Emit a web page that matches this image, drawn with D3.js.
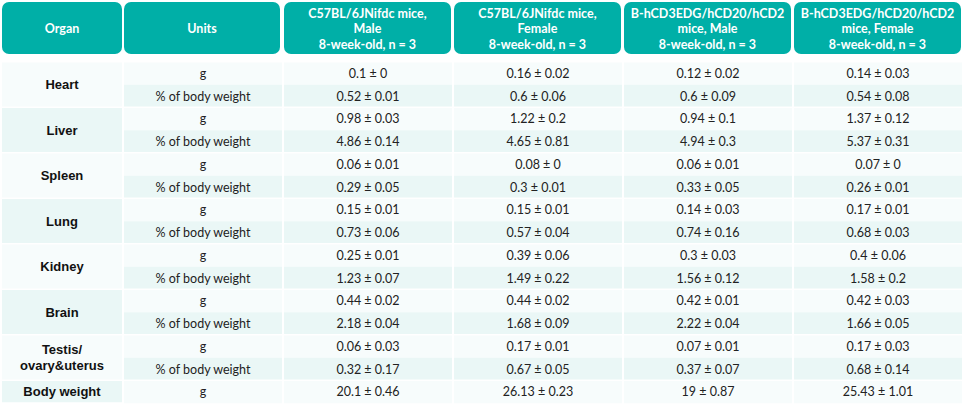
<!DOCTYPE html>
<html>
<head>
<meta charset="utf-8">
<script src="https://cdn.jsdelivr.net/npm/d3@7"></script>
<style>
  body { margin: 0; background: #fff; }
  svg { display: block; }
</style>
</head>
<body>
<svg id="chart"></svg>
<script>
// table content
var headers = [
  ["Organ"],
  ["Units"],
  ["C57BL/6JNifdc mice,", "Male", "8-week-old, n = 3"],
  ["C57BL/6JNifdc mice,", "Female", "8-week-old, n = 3"],
  ["B-hCD3EDG/hCD20/hCD2", "mice, Male", "8-week-old, n = 3"],
  ["B-hCD3EDG/hCD20/hCD2", "mice, Female", "8-week-old, n = 3"]
];
var organs = [["Heart"], ["Liver"], ["Spleen"], ["Lung"], ["Kidney"], ["Brain"], ["Testis/", "ovary&uterus"], ["Body weight"]];
var units = ["g", "% of body weight"];
var c57Male = ["0.1 ± 0", "0.52 ± 0.01", "0.98 ± 0.03", "4.86 ± 0.14", "0.06 ± 0.01", "0.29 ± 0.05", "0.15 ± 0.01", "0.73 ± 0.06",
  "0.25 ± 0.01", "1.23 ± 0.07", "0.44 ± 0.02", "2.18 ± 0.04", "0.06 ± 0.03", "0.32 ± 0.17", "20.1 ± 0.46"];
var c57Female = ["0.16 ± 0.02", "0.6 ± 0.06", "1.22 ± 0.2", "4.65 ± 0.81", "0.08 ± 0", "0.3 ± 0.01", "0.15 ± 0.01", "0.57 ± 0.04",
  "0.39 ± 0.06", "1.49 ± 0.22", "0.44 ± 0.02", "1.68 ± 0.09", "0.17 ± 0.01", "0.67 ± 0.05", "26.13 ± 0.23"];
var hcdMale = ["0.12 ± 0.02", "0.6 ± 0.09", "0.94 ± 0.1", "4.94 ± 0.3", "0.06 ± 0.01", "0.33 ± 0.05", "0.14 ± 0.03", "0.74 ± 0.16",
  "0.3 ± 0.03", "1.56 ± 0.12", "0.42 ± 0.01", "2.22 ± 0.04", "0.07 ± 0.01", "0.37 ± 0.07", "19 ± 0.87"];
var hcdFemale = ["0.14 ± 0.03", "0.54 ± 0.08", "1.37 ± 0.12", "5.37 ± 0.31", "0.07 ± 0", "0.26 ± 0.01", "0.17 ± 0.01", "0.68 ± 0.03",
  "0.4 ± 0.06", "1.58 ± 0.2", "0.42 ± 0.03", "1.66 ± 0.05", "0.17 ± 0.03", "0.68 ± 0.14", "25.43 ± 1.01"];
var series = [c57Male, c57Female, hcdMale, hcdFemale];

var width = 965, height = 404;
var teal = "#00afa7", light = "#f7fcfc", tint = "#eaf7f6";
var bodyFont = "Lato, 'Noto Sans', sans-serif";

// column edges
var edges = [2, 124, 284, 454, 624, 794, 964];
var colX = function(i) { return edges[i]; };
var colW = function(i) { return edges[i + 1] - edges[i] - 2; };

// rows: each organ is a group of up to two unit rows
var rowH = 22.75, tableTop = 62;
var groupY = d3.scaleLinear().domain([0, 1]).range([tableTop, tableTop + 2 * rowH]);
var rowY = function(r) { return groupY(Math.floor(r / 2)) + (r % 2) * rowH; };

var svg = d3.select("#chart").attr("width", width).attr("height", height);

// header boxes
var head = svg.append("g").selectAll("g").data(headers).enter().append("g");
head.append("rect")
  .attr("x", (d, i) => colX(i))
  .attr("y", 2)
  .attr("width", (d, i) => i == 0 ? 120 : (i == 1 ? 156 : colW(i) - 1))
  .attr("height", 52)
  .attr("rx", 7)
  .attr("fill", teal);
head.each(function(d, i) {
  var cx = colX(i) + (i == 0 ? 60 : (i == 1 ? 78 : (colW(i) - 1) / 2));
  var t = d3.select(this).append("text")
    .attr("text-anchor", "middle")
    .attr("fill", "#fff")
    .attr("font-family", "Lato, 'Open Sans', sans-serif")
    .attr("font-weight", "bold")
    .attr("font-size", 12.5);
  var y0 = 33 - (d.length - 1) * 15.5 / 2;
  d.forEach(function(line, k) {
    t.append("tspan").attr("x", cx).attr("y", y0 + k * 15.5).text(line);
  });
});

// organ cells
var org = svg.append("g").selectAll("g").data(organs).enter().append("g");
org.append("rect")
  .attr("x", colX(0))
  .attr("y", (d, i) => groupY(i) + 0.5)
  .attr("width", colW(0))
  .attr("height", (d, i) => (i == organs.length - 1 ? rowH : 2 * rowH) - 1.5)
  .attr("fill", (d, i) => i % 2 ? tint : light);
org.each(function(d, i) {
  var n = i == organs.length - 1 ? 1 : 2;
  var cy = groupY(i) + n * rowH / 2;
  var t = d3.select(this).append("text")
    .attr("text-anchor", "middle")
    .attr("fill", "#111")
    .attr("font-family", "'Liberation Sans', Arial, sans-serif")
    .attr("font-weight", "bold")
    .attr("font-size", 13);
  d.forEach(function(line, k) {
    t.append("tspan").attr("x", colX(0) + colW(0) / 2)
      .attr("y", cy + 4.5 + (k - (d.length - 1) / 2) * 16).text(line);
  });
});

// units + values rows
var rows = d3.range(c57Male.length);
var cells = [];
rows.forEach(function(r) {
  cells.push({ r: r, c: 1, text: units[r % 2] });
  series.forEach(function(s, k) { cells.push({ r: r, c: k + 2, text: s[r] }); });
});

var cell = svg.append("g").selectAll("g").data(cells).enter().append("g");
cell.append("rect")
  .attr("x", d => colX(d.c))
  .attr("y", d => rowY(d.r) + (d.r % 2 ? 0 : 0.5))
  .attr("width", d => colW(d.c))
  .attr("height", d => d.r % 2 ? rowH - 1 : rowH - 0.5)
  .attr("fill", d => d.r % 2 ? tint : light);
cell.append("text")
  .attr("x", d => colX(d.c) + colW(d.c) / 2)
  .attr("y", d => rowY(d.r) + rowH / 2 + 4.5)
  .attr("text-anchor", "middle")
  .attr("fill", "#222")
  .attr("font-family", bodyFont)
  .attr("font-size", 12.5)
  .text(d => d.text);
</script>
</body>
</html>
